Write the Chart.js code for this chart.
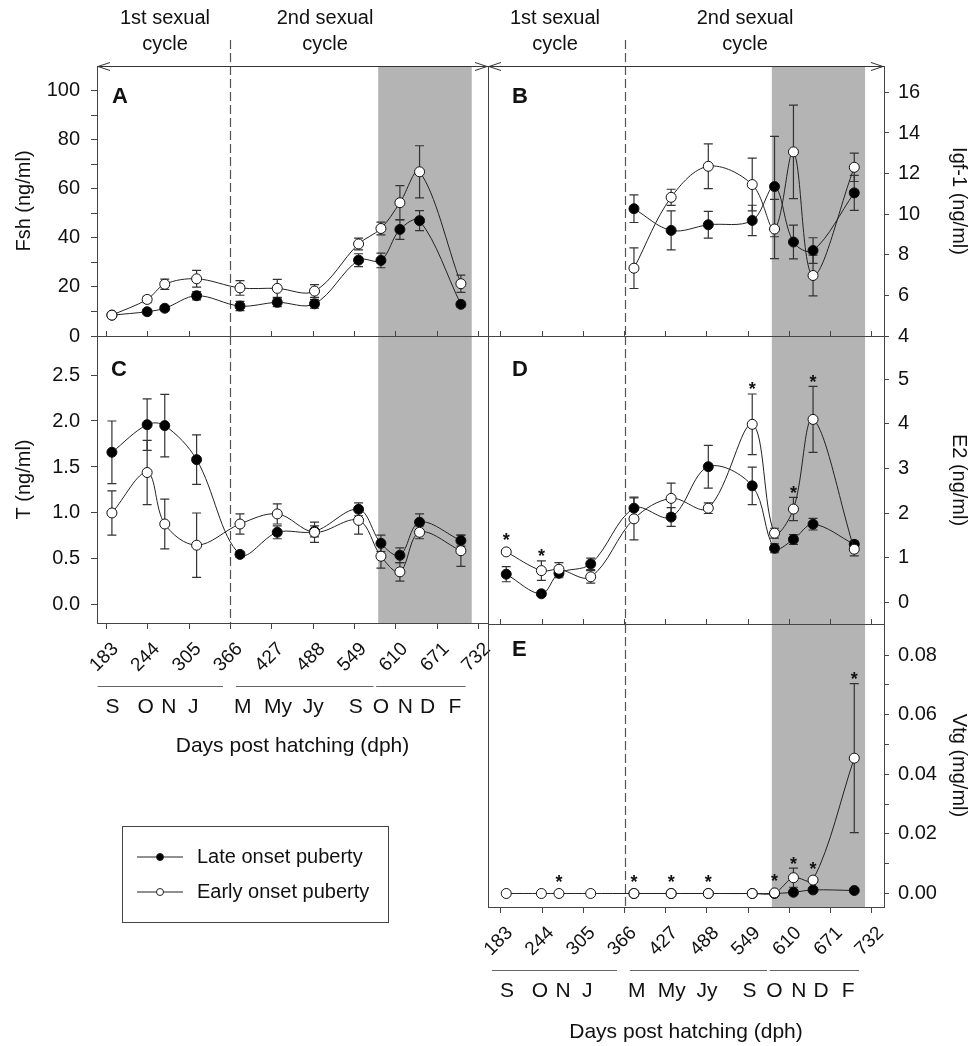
<!DOCTYPE html>
<html>
<head>
<meta charset="utf-8">
<script src="https://cdn.jsdelivr.net/npm/chart.js@4.4.1/dist/chart.umd.min.js"></script>
<style>
html, body { margin: 0; padding: 0; background: #fff; }
#wrap { position: relative; width: 977px; height: 1046px; }
#wrap canvas { position: absolute; left: 0; top: 0; }
</style>
</head>
<body>
<div id="wrap">
  <canvas id="cA" width="977" height="1046"></canvas>
  <canvas id="cC" width="977" height="1046"></canvas>
  <canvas id="cB" width="977" height="1046"></canvas>
  <canvas id="cD" width="977" height="1046"></canvas>
  <canvas id="cE" width="977" height="1046"></canvas>
</div>
<script>
// sampling days (dph) and axis ticks
const days = [191, 243, 269, 316, 380, 435, 490, 555, 588, 616, 645, 706];
const xTicks = [183, 244, 305, 366, 427, 488, 549, 610, 671, 732];
const cycleSplit = 366;
const shade = [584, 722];
const monthNames = ['S', 'O', 'N', 'J', 'M', 'My', 'Jy', 'S', 'O', 'N', 'D', 'F'];
const monthDays = [192, 241, 275, 311, 384, 436, 488, 551, 588, 624, 657, 697];
const monthSpans = [[170, 355], [374, 577], [581, 713]];

// A - Fsh
const fshLate = [8.5, 9.9, 11.3, 16.4, 12.2, 13.7, 13.1, 30.9, 30.8, 43.4, 47.0, 12.9];
const fshLateErr = [0.6, 0.8, 1.0, 1.7, 1.9, 1.7, 1.8, 2.6, 3.0, 4.0, 4.1, 1.0];
const fshEarly = [8.5, 14.9, 21.1, 23.3, 19.6, 19.4, 18.3, 37.5, 43.8, 54.3, 66.9, 21.3];
const fshEarlyErr = [0.8, 1.3, 2.1, 3.4, 3.0, 3.7, 2.6, 2.4, 2.6, 7.0, 10.6, 3.5];

// B - Igf-1
const igfLate = [null, null, null, null, 10.27, 9.2, 9.48, 9.69, 11.36, 8.63, 8.21, 11.05];
const igfLateErr = [null, null, null, null, 0.68, 0.96, 0.66, 0.75, 2.47, 0.83, 0.63, 0.86];
const igfEarly = [null, null, null, null, 7.34, 10.83, 12.36, 11.46, 9.27, 13.07, 6.98, 12.31];
const igfEarlyErr = [null, null, null, null, 1.0, 0.4, 1.1, 1.3, 1.46, 2.3, 1.0, 0.7];

// C - T
const tLate = [1.66, 1.96, 1.95, 1.58, 0.55, 0.79, 0.80, 1.04, 0.67, 0.54, 0.90, 0.70];
const tLateErr = [0.34, 0.28, 0.34, 0.27, 0.03, 0.07, 0.06, 0.07, 0.09, 0.08, 0.09, 0.06];
const tEarly = [1.00, 1.44, 0.88, 0.65, 0.88, 0.99, 0.79, 0.92, 0.53, 0.36, 0.79, 0.59];
const tEarlyErr = [0.24, 0.35, 0.27, 0.35, 0.11, 0.11, 0.11, 0.15, 0.13, 0.10, 0.07, 0.17];

// D - E2
const e2Late = [0.63, 0.19, 0.65, 0.86, 2.11, 1.91, 3.04, 2.61, 1.21, 1.41, 1.75, 1.30];
const e2LateErr = [0.17, 0.04, 0.10, 0.13, 0.25, 0.21, 0.48, 0.42, 0.10, 0.11, 0.13, 0.07];
const e2Early = [1.13, 0.71, 0.74, 0.57, 1.87, 2.33, 2.11, 3.99, 1.55, 2.09, 4.10, 1.19];
const e2EarlyErr = [0.05, 0.22, 0.15, 0.14, 0.47, 0.34, 0.12, 0.68, 0.11, 0.26, 0.74, 0.15];
const e2Stars = [0, 1, 7, 9, 10];

// E - Vtg
const vtgLate = [null, null, null, null, 0, 0, 0, 0, 0, 0.0004, 0.0012, 0.001];
const vtgLateErr = [null, null, null, null, 0, 0, 0, 0, 0, 0.0003, 0.0004, 0.0003];
const vtgEarly = [0, 0, 0, 0, 0, 0, 0, 0, 0.0002, 0.0053, 0.0045, 0.0454];
const vtgEarlyErr = [0, 0, 0, 0, 0, 0, 0, 0, 0, 0.0032, 0.0005, 0.025];
const vtgStars = [2, 4, 5, 6, 8, 9, 10, 11];

const W = 977, H = 1046;
const FONT = '"Liberation Sans", Arial, sans-serif';
Chart.defaults.font.family = FONT;
Chart.defaults.color = '#111';

const panels = [
  { canvas: 'cA', letter: 'A', area: { left: 97, top: 66, right: 488, bottom: 336 }, side: 'left',
    xMin: 169, xMax: 746, yMin: 0, yMax: 110, yTicks: [0, 10, 20, 30, 40, 50, 60, 70, 80, 90, 100],
    every: 2, fmt: v => String(v), yTitle: 'Fsh (ng/ml)',
    late: fshLate, lateErr: fshLateErr, early: fshEarly, earlyErr: fshEarlyErr, stars: [],
    letterPos: [15, 31], topRow: true, topText: [[165, '1st sexual', 'cycle'], [325, '2nd sexual', 'cycle']] },
  { canvas: 'cC', letter: 'C', area: { left: 97, top: 336, right: 488, bottom: 623 }, side: 'left',
    xMin: 169, xMax: 746, yMin: -0.196, yMax: 2.924, yTicks: [0, 0.5, 1, 1.5, 2, 2.5],
    every: 1, fmt: v => v.toFixed(1), yTitle: 'T (ng/ml)',
    late: tLate, lateErr: tLateErr, early: tEarly, earlyErr: tEarlyErr, stars: [],
    letterPos: [14, 34], xLabels: true, titlePad: 3, legend: true },
  { canvas: 'cB', letter: 'B', area: { left: 488, top: 66, right: 884, bottom: 336 }, side: 'right',
    xMin: 164, xMax: 750, yMin: 4, yMax: 17.3, yTicks: [4, 6, 8, 10, 12, 14, 16],
    every: 1, fmt: v => String(v), yTitle: 'Igf-1 (ng/ml)',
    late: igfLate, lateErr: igfLateErr, early: igfEarly, earlyErr: igfEarlyErr, stars: [],
    letterPos: [24, 31], topRow: true, topText: [[555, '1st sexual', 'cycle'], [745, '2nd sexual', 'cycle']] },
  { canvas: 'cD', letter: 'D', area: { left: 488, top: 336, right: 884, bottom: 624 }, side: 'right',
    xMin: 164, xMax: 750, yMin: -0.487, yMax: 5.97, yTicks: [0, 1, 2, 3, 4, 5],
    every: 1, fmt: v => String(v), yTitle: 'E2 (ng/ml)',
    late: e2Late, lateErr: e2LateErr, early: e2Early, earlyErr: e2EarlyErr, stars: e2Stars,
    letterPos: [24, 34] },
  { canvas: 'cE', letter: 'E', area: { left: 488, top: 624, right: 884, bottom: 907 }, side: 'right',
    xMin: 164, xMax: 750, yMin: -0.00453, yMax: 0.0904,
    yTicks: [0, 0.01, 0.02, 0.03, 0.04, 0.05, 0.06, 0.07, 0.08],
    every: 2, fmt: v => v.toFixed(2), yTitle: 'Vtg (mg/ml)',
    late: vtgLate, lateErr: vtgLateErr, early: vtgEarly, earlyErr: vtgEarlyErr, stars: vtgStars,
    letterPos: [24, 26], xLabels: true, titlePad: 1 }
];

function series(label, vals, errs, fill) {
  return {
    label: label,
    data: days.map((d, i) => ({ x: d, y: vals[i] })),
    errs: errs,
    borderColor: '#222',
    borderWidth: 1,
    tension: 0.35,
    pointRadius: 5,
    pointBorderWidth: 1,
    pointBorderColor: '#111',
    pointBackgroundColor: fill,
    backgroundColor: fill,
    fill: false
  };
}

function decor(p) {
  return {
    id: 'decor' + p.letter,
    beforeDraw(chart) {
      const { ctx, chartArea: a } = chart;
      const x = chart.scales.x;
      const s0 = x.getPixelForValue(shade[0]), s1 = x.getPixelForValue(shade[1]);
      ctx.save();
      ctx.fillStyle = '#b4b4b4';
      ctx.fillRect(s0, a.top, s1 - s0, a.bottom - a.top);
      ctx.restore();
    },
    beforeDatasetsDraw(chart) {
      const { ctx, chartArea: a } = chart;
      const x = chart.scales.x, y = chart.scales.y;
      ctx.save();
      // cycle boundary
      const dx = Math.round(x.getPixelForValue(cycleSplit)) + 0.5;
      ctx.strokeStyle = '#555';
      ctx.lineWidth = 1.2;
      ctx.setLineDash([9, 4]);
      ctx.beginPath();
      ctx.moveTo(dx, p.topRow ? 40 : a.top);
      ctx.lineTo(dx, a.bottom);
      ctx.stroke();
      ctx.setLineDash([]);
      // error bars
      ctx.strokeStyle = '#333';
      ctx.lineWidth = 1.2;
      chart.data.datasets.forEach(ds => {
        ds.data.forEach((pt, i) => {
          const e = ds.errs[i];
          if (pt.y === null || !e) return;
          const px = x.getPixelForValue(pt.x);
          const y1 = y.getPixelForValue(pt.y + e), y2 = y.getPixelForValue(pt.y - e);
          ctx.beginPath();
          ctx.moveTo(px, y1); ctx.lineTo(px, y2);
          ctx.moveTo(px - 4.5, y1); ctx.lineTo(px + 4.5, y1);
          ctx.moveTo(px - 4.5, y2); ctx.lineTo(px + 4.5, y2);
          ctx.stroke();
        });
      });
      ctx.restore();
    },
    afterDraw(chart) {
      const { ctx, chartArea: a } = chart;
      const x = chart.scales.x, y = chart.scales.y;
      ctx.save();
      // frame
      ctx.strokeStyle = '#444';
      ctx.lineWidth = 1;
      ctx.strokeRect(a.left + 0.5, a.top + 0.5, a.right - a.left, a.bottom - a.top);
      // panel letter
      ctx.fillStyle = '#111';
      ctx.font = 'bold 22px ' + FONT;
      ctx.textAlign = 'left';
      ctx.textBaseline = 'middle';
      ctx.fillText(p.letter, a.left + p.letterPos[0], a.top + p.letterPos[1]);
      // significance stars
      ctx.font = 'bold 18px ' + FONT;
      ctx.textAlign = 'center';
      ctx.textBaseline = 'alphabetic';
      p.stars.forEach(i => {
        const v = p.early[i], e = p.earlyErr[i] || 0;
        const px = x.getPixelForValue(days[i]);
        const cy = Math.min(y.getPixelForValue(v + e) - 9, y.getPixelForValue(v) - 16);
        ctx.fillText('*', px, cy + 10.5);
      });
      // cycle arrows and labels
      if (p.topRow) {
        const t = a.top + 0.5;
        ctx.strokeStyle = '#333';
        ctx.beginPath();
        ctx.moveTo(a.left, t); ctx.lineTo(a.right, t);
        ctx.moveTo(a.left + 13, t - 4); ctx.lineTo(a.left + 1, t); ctx.lineTo(a.left + 13, t + 4);
        ctx.moveTo(a.right - 13, t - 4); ctx.lineTo(a.right - 1, t); ctx.lineTo(a.right - 13, t + 4);
        ctx.stroke();
        ctx.font = '20px ' + FONT;
        ctx.textBaseline = 'middle';
        p.topText.forEach(([tx, l1, l2]) => {
          ctx.fillText(l1, tx, 18);
          ctx.fillText(l2, tx, 44);
        });
      }
      // month rows
      if (p.xLabels) {
        const yl = a.bottom + 63.5, ym = a.bottom + 84;
        ctx.strokeStyle = '#666';
        monthSpans.forEach(([d0, d1]) => {
          ctx.beginPath();
          ctx.moveTo(x.getPixelForValue(d0), yl);
          ctx.lineTo(x.getPixelForValue(d1), yl);
          ctx.stroke();
        });
        ctx.font = '21px ' + FONT;
        ctx.textAlign = 'center';
        ctx.textBaseline = 'middle';
        monthNames.forEach((m, i) => ctx.fillText(m, x.getPixelForValue(monthDays[i]), ym));
      }
      // legend
      if (p.legend) {
        const L = { x: 122, y: 826, w: 266, h: 96 };
        ctx.strokeStyle = '#444';
        ctx.strokeRect(L.x + 0.5, L.y + 0.5, L.w, L.h);
        const rows = [chart.data.datasets[1], chart.data.datasets[0]];
        ctx.font = '20px ' + FONT;
        ctx.textAlign = 'left';
        ctx.textBaseline = 'middle';
        rows.forEach((ds, k) => {
          const ry = L.y + 31 + k * 35;
          ctx.strokeStyle = '#222';
          ctx.beginPath();
          ctx.moveTo(L.x + 15, ry); ctx.lineTo(L.x + 61, ry);
          ctx.stroke();
          ctx.beginPath();
          ctx.arc(L.x + 38, ry, 3.5, 0, Math.PI * 2);
          ctx.fillStyle = ds.pointBackgroundColor;
          ctx.fill();
          ctx.stroke();
          ctx.fillStyle = '#111';
          ctx.fillText(ds.label, L.x + 75, ry);
        });
      }
      ctx.restore();
    }
  };
}

panels.forEach(p => {
  const a = p.area;
  const xH = p.xLabels ? 139 : 0;
  const yW = p.side === 'left' ? a.left : W - a.right;
  new Chart(document.getElementById(p.canvas), {
    type: 'line',
    data: {
      datasets: [
        series('Early onset puberty', p.early, p.earlyErr, '#fff'),
        series('Late onset puberty', p.late, p.lateErr, '#000')
      ]
    },
    options: {
      responsive: false,
      animation: false,
      events: [],
      layout: {
        autoPadding: false,
        padding: {
          left: p.side === 'left' ? 0 : a.left,
          right: p.side === 'right' ? 0 : W - a.right,
          top: a.top,
          bottom: H - a.bottom - xH
        }
      },
      plugins: { legend: { display: false }, tooltip: { enabled: false } },
      scales: {
        x: {
          type: 'linear',
          min: p.xMin,
          max: p.xMax,
          afterBuildTicks: s => { s.ticks = xTicks.map(v => ({ value: v })); },
          afterFit: s => { s.height = xH; },
          ticks: {
            display: !!p.xLabels, autoSkip: false, minRotation: 45, maxRotation: 45,
            labelOffset: 9, padding: 9, color: '#111', font: { size: 19 },
            callback: v => String(v)
          },
          grid: { drawOnChartArea: false, tickLength: p.xLabels ? 6 : -5, color: '#444' },
          border: { display: false },
          title: {
            display: !!p.xLabels, text: 'Days post hatching (dph)', color: '#111',
            font: { size: 21 }, padding: { top: 0, bottom: p.titlePad || 0 }
          }
        },
        y: {
          type: 'linear',
          position: p.side,
          min: p.yMin,
          max: p.yMax,
          afterBuildTicks: s => { s.ticks = p.yTicks.map(v => ({ value: v })); },
          afterFit: s => { s.width = yW; },
          ticks: {
            color: '#111', font: { size: 20 }, padding: p.side === 'left' ? 11 : 9,
            callback: (v, i) => (i % p.every === 0 ? p.fmt(v) : '')
          },
          grid: { drawOnChartArea: false, tickLength: p.side === 'left' ? 6 : 5, color: '#444' },
          border: { display: false },
          title: {
            display: true, text: p.yTitle, color: '#111', font: { size: 20 },
            padding: { top: p.side === 'left' ? 12 : 6, bottom: 0 }
          }
        }
      }
    },
    plugins: [decor(p)]
  });
});
</script>
</body>
</html>
